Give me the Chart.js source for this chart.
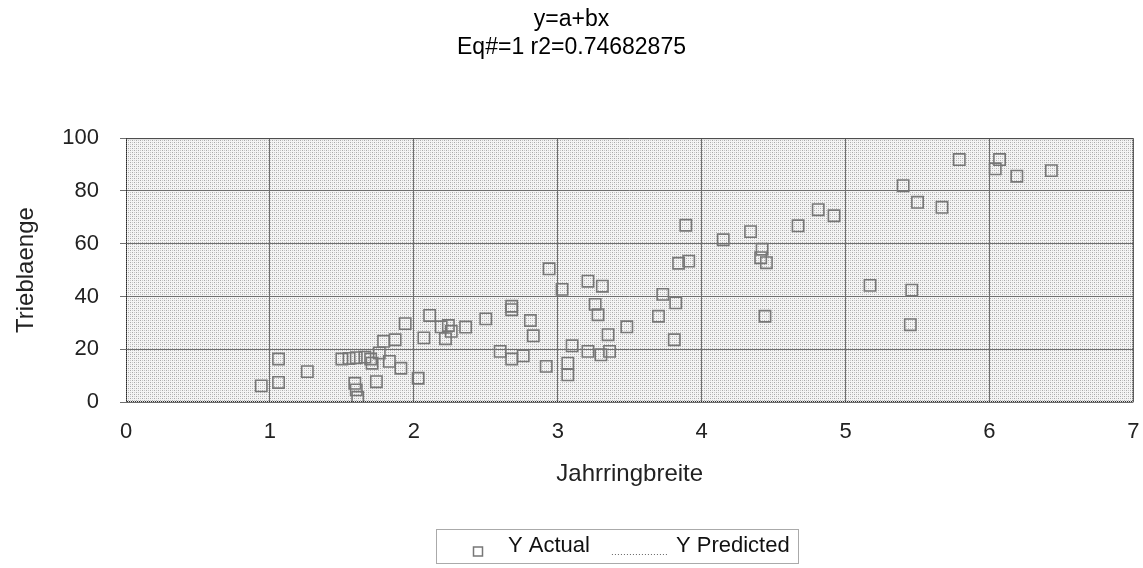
<!DOCTYPE html>
<html lang="de">
  <head>
    <meta charset="UTF-8" />
    <title>Trieblaenge vs. Jahrringbreite</title>
    <script src="https://cdn.jsdelivr.net/npm/chart.js"></script>
    <style>
      body {
        margin: 0;
        background: #fff;
        overflow: hidden;
      }
      .wrap {
        width: 1143px;
        height: 568px;
      }
    </style>
  </head>
  <body>
    <div class="wrap"><canvas id="fit"></canvas></div>

    <script>
      // Jahrringbreite (x) und Trieblaenge (y) der Messungen
      const xActual = [
        0.94, 1.06, 1.06, 1.26, 1.5, 1.55, 1.6, 1.66, 1.7, 1.59, 1.6, 1.61,
        1.74, 1.71, 1.76, 1.79, 1.87, 1.83, 1.91, 1.94, 2.03, 2.11, 2.07,
        2.19, 2.22, 2.26, 2.24, 2.36, 2.5, 2.68, 2.68, 2.81, 2.83, 2.6, 2.68,
        2.76, 2.92, 2.94, 3.03, 3.07, 3.07, 3.1, 3.21, 3.31, 3.26, 3.28, 3.21,
        3.35, 3.3, 3.36, 3.48, 3.73, 3.82, 3.7, 3.81, 3.84, 3.91, 3.89, 4.15,
        4.34, 4.42, 4.41, 4.45, 4.44, 4.67, 4.81, 4.92, 5.17, 5.4, 5.5, 5.67,
        5.79, 6.07, 6.04, 6.19, 6.43, 5.46, 5.45,
      ];
      const yActual = [
        6.1, 7.4, 16.3, 11.5, 16.3, 16.5, 16.8, 17.0, 16.3, 7.1, 4.6, 1.8,
        7.7, 14.7, 18.6, 23.0, 23.6, 15.4, 12.8, 29.7, 9.0, 32.8, 24.3, 28.5,
        24.0, 26.8, 29.0, 28.4, 31.5, 36.3, 35.0, 30.9, 25.1, 19.2, 16.3,
        17.5, 13.5, 50.5, 42.7, 14.7, 10.3, 21.3, 45.8, 43.9, 37.0, 33.1,
        19.2, 25.5, 17.9, 19.2, 28.5, 40.8, 37.6, 32.5, 23.6, 52.6, 53.4,
        67.0, 61.5, 64.6, 57.9, 54.7, 52.8, 32.5, 66.8, 72.9, 70.6, 44.2,
        82.0, 75.7, 73.8, 91.9, 91.9, 88.4, 85.6, 87.7, 42.4, 29.3,
      ];

      const titleLines = ["y=a+bx", "Eq#=1 r2=0.74682875"];
      const seriesNames = ["Y Actual", "Y Predicted"];
      const xTicks = [0, 1, 2, 3, 4, 5, 6, 7];
      const yTicks = [0, 20, 40, 60, 80, 100];

      const FONT = "'Liberation Sans', Arial, sans-serif";

      // kleines Punktraster als Hintergrund der Zeichenflaeche
      function makeStipple(ctx) {
        const c = document.createElement("canvas");
        c.width = 4;
        c.height = 4;
        const g = c.getContext("2d");
        g.fillStyle = "#f4f4f4";
        g.fillRect(0, 0, 4, 4);
        g.fillStyle = "#a9a9a9";
        g.fillRect(0, 0, 1, 1);
        g.fillRect(2, 2, 1, 1);
        g.fillStyle = "#c9c9c9";
        g.fillRect(2, 0, 1, 1);
        g.fillRect(0, 2, 1, 1);
        return ctx.createPattern(c, "repeat");
      }

      const plotFrame = {
        id: "plotFrame",
        beforeDraw(chart) {
          const { ctx, chartArea: a } = chart;
          ctx.save();
          ctx.fillStyle = makeStipple(ctx);
          ctx.fillRect(a.left, a.top, a.right - a.left, a.bottom - a.top);
          ctx.restore();
        },
        afterDatasetsDraw(chart) {
          const { ctx, chartArea: a } = chart;
          ctx.save();
          ctx.strokeStyle = "#222";
          ctx.lineWidth = 1;
          ctx.setLineDash([1, 1]);
          ctx.strokeRect(a.left + 0.5, a.top + 0.5, a.right - a.left - 1, a.bottom - a.top - 1);
          ctx.restore();
        },
      };

      // Legende mit gepunktetem Rahmen unter dem Diagramm
      const boxLegend = {
        id: "boxLegend",
        afterDraw(chart) {
          const { ctx } = chart;
          const ds = chart.data.datasets;
          ctx.save();
          ctx.font = "22px " + FONT;
          ctx.textBaseline = "middle";
          const cy = 546;
          const left = 436;
          const w0 = ctx.measureText(ds[0].label).width;
          const w1 = ctx.measureText(ds[1].label).width;

          // Symbol fuer die Messwerte
          let x = 478;
          ctx.strokeStyle = ds[0].borderColor;
          ctx.lineWidth = 1.5;
          ctx.strokeRect(x - 4.5, cy + 1, 9, 9);
          x += 30;
          ctx.fillStyle = "#111";
          ctx.fillText(ds[0].label, x, cy);
          x += w0 + 22;

          // gepunktete Linie fuer die Regressionsgerade
          ctx.strokeStyle = ds[1].borderColor;
          ctx.lineWidth = 1;
          ctx.setLineDash(ds[1].borderDash);
          ctx.beginPath();
          ctx.moveTo(x, cy + 8.5);
          ctx.lineTo(x + 56, cy + 8.5);
          ctx.stroke();
          x += 56 + 8;
          ctx.fillText(ds[1].label, x, cy);
          const right = x + w1 + 8;

          ctx.strokeStyle = "#555";
          ctx.setLineDash([1, 1]);
          ctx.strokeRect(left + 0.5, cy - 16.5, Math.round(right - left), 34);
          ctx.restore();
        },
      };

      new Chart(document.getElementById("fit"), {
        type: "scatter",
        data: {
          datasets: [
            {
              label: seriesNames[0],
              data: xActual.map((x, i) => ({ x, y: yActual[i] })),
              pointStyle: "rect",
              pointRadius: 8,
              borderColor: "#777",
              borderWidth: 1.6,
              backgroundColor: "rgba(0,0,0,0)",
            },
            {
              label: seriesNames[1],
              data: [],
              showLine: true,
              borderColor: "#666",
              borderDash: [1, 2],
              pointRadius: 0,
            },
          ],
        },
        options: {
          responsive: true,
          maintainAspectRatio: false,
          animation: false,
          layout: { padding: { left: 0, right: 0, top: 0, bottom: 79 } },
          plugins: {
            legend: { display: false },
            tooltip: { enabled: false },
            title: {
              display: true,
              text: titleLines,
              color: "#000",
              font: { family: FONT, size: 23, weight: "normal", lineHeight: 1.2 },
              padding: { top: 6, bottom: 77 },
            },
          },
          scales: {
            x: {
              type: "linear",
              min: xTicks[0],
              max: xTicks[xTicks.length - 1],
              afterBuildTicks: (s) => (s.ticks = xTicks.map((v) => ({ value: v }))),
              afterFit: (s) => {
                s.height = 87;
                s.paddingRight = 3;
              },
              grid: { color: "#6e6e6e", tickLength: 0, drawTicks: false },
              border: { display: false },
              ticks: { color: "#222", padding: 17, font: { family: FONT, size: 22 } },
              title: {
                display: true,
                text: "Jahrringbreite",
                color: "#222",
                font: { family: FONT, size: 24 },
                padding: { top: 0, bottom: 0 },
              },
            },
            y: {
              type: "linear",
              min: yTicks[0],
              max: yTicks[yTicks.length - 1],
              afterBuildTicks: (s) => (s.ticks = yTicks.map((v) => ({ value: v }))),
              afterFit: (s) => (s.width = 126),
              grid: { color: "#6e6e6e", tickLength: 6 },
              border: { display: false },
              ticks: { color: "#222", padding: 21, font: { family: FONT, size: 22 } },
              title: {
                display: true,
                text: "Trieblaenge",
                color: "#222",
                font: { family: FONT, size: 24 },
                padding: { top: 12, bottom: 12 },
              },
            },
          },
        },
        plugins: [plotFrame, boxLegend],
      });
    </script>
  </body>
</html>
